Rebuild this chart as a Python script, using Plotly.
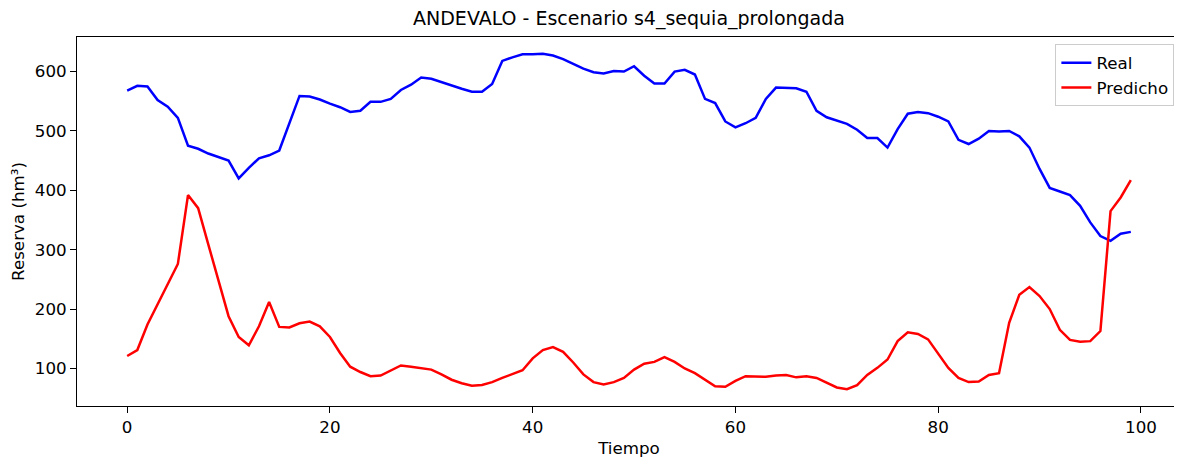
import plotly.graph_objects as go

tiempo = list(range(100))

real = [568, 576, 575, 552, 541, 522, 475, 470, 462, 456,
        450, 420, 438, 454, 459, 467, 514, 559, 558, 553,
        546, 540, 532, 534, 549, 549, 554, 569, 578, 590,
        588, 582, 576, 571, 566, 566, 579, 618, 624, 629,
        629, 630, 627, 621, 613, 605, 599, 597, 601, 600,
        609, 593, 580, 580, 600, 603, 595, 554, 547, 516,
        506, 513, 522, 554, 573, 573, 572, 566, 534, 523,
        517, 512, 502, 488, 488, 472, 503, 529, 532, 530,
        524, 516, 485, 478, 487, 500, 499, 500, 491, 472,
        436, 404, 398, 392, 374, 346, 323, 315, 327, 330]

predicho = [121, 131, 174, 208, 244, 276, 392, 370, 309, 247,
            188, 153, 139, 171, 212, 170, 169, 176, 179, 171,
            153, 126, 103, 94, 87, 88, 97, 105, 103, 101,
            98, 90, 81, 75, 71, 72, 77, 84, 91, 97,
            117, 131, 136, 128, 110, 90, 77, 73, 77, 84,
            98, 108, 111, 119, 111, 100, 92, 81, 70, 69,
            79, 87, 86, 86, 88, 89, 85, 87, 84, 76,
            68, 65, 72, 89, 101, 115, 146, 161, 158, 149,
            124, 101, 84, 77, 78, 89, 92, 177, 224, 237,
            222, 200, 165, 148, 145, 146, 163, 365, 388, 417]

y_ticks = [100, 200, 300, 400, 500, 600]
x_ticks = [0, 20, 40, 60, 80, 100]

font = "DejaVu Sans"
fs = 16.7

W, H = 1174, 453
ML, MR, MT, MB = 69, 1, 29, 55

fig = go.Figure()
fig.add_trace(go.Scatter(x=tiempo, y=real, mode="lines", name="Real",
                         line=dict(color="blue", width=2.5)))
fig.add_trace(go.Scatter(x=tiempo, y=predicho, mode="lines", name="Predicho",
                         line=dict(color="red", width=2.5)))

axis_common = dict(showline=True, linecolor="black", linewidth=1, mirror=True,
                   ticks="outside", ticklen=6, tickwidth=1, tickcolor="black",
                   showgrid=False, zeroline=False,
                   tickfont=dict(family=font, size=fs, color="black"))

fig.update_layout(
    width=W, height=H,
    margin=dict(l=ML, r=MR, t=MT, b=MB),
    paper_bgcolor="white", plot_bgcolor="white",
    title=dict(text="ANDEVALO - Escenario s4_sequia_prolongada",
               x=(ML + (W - MR)) / 2 / W, xanchor="center", y=1 - 4 / H, yanchor="top",
               pad=dict(t=0, b=0),
               font=dict(family=font, size=19, color="black")),
    xaxis=dict(range=[-4.95, 103.95], tickvals=x_ticks,
               title=dict(text="Tiempo", font=dict(family=font, size=fs, color="black"), standoff=6),
               **axis_common),
    yaxis=dict(range=[36.75, 658.25], tickvals=y_ticks,
               title=dict(text="Reserva (hm³)", font=dict(family=font, size=fs, color="black"), standoff=7),
               **axis_common),
    legend=dict(x=0.994, xanchor="right", y=0.98, yanchor="top",
                bgcolor="rgba(255,255,255,0.8)", bordercolor="#cccccc", borderwidth=1,
                font=dict(family=font, size=fs, color="black")),
    showlegend=True,
)

fig.write_html("out.html")
